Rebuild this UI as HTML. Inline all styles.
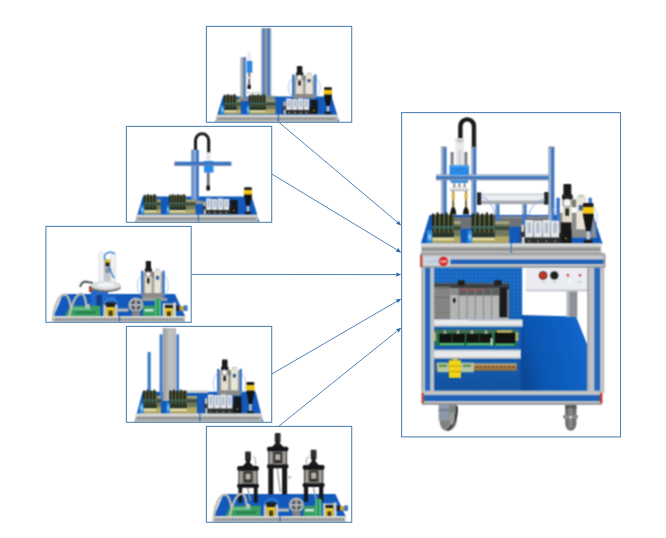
<!DOCTYPE html>
<html><head><meta charset="utf-8"><title>Workstations diagram</title>
<style>html,body{margin:0;padding:0;background:#fff;font-family:"Liberation Sans",sans-serif;}svg{display:block}</style></head>
<body>
<svg width="666" height="538" viewBox="0 0 666 538">
<defs>
<filter id="soft" x="-3%" y="-3%" width="106%" height="106%" color-interpolation-filters="sRGB"><feConvolveMatrix order="3" kernelMatrix="1 2 1 2 4 2 1 2 1" divisor="16" edgeMode="none" preserveAlpha="false"/></filter>
<filter id="soft2" x="-2%" y="-2%" width="104%" height="104%" color-interpolation-filters="sRGB"><feConvolveMatrix order="3" kernelMatrix="1 2 1 2 4 2 1 2 1" divisor="16" edgeMode="none" preserveAlpha="false"/></filter>
<linearGradient id="alu" x1="0" x2="1" y1="0" y2="0"><stop offset="0" stop-color="#9c9c9c"/><stop offset="0.55" stop-color="#c2c2c2"/><stop offset="1" stop-color="#b6b6b6"/></linearGradient>
<linearGradient id="floor" x1="0" y1="0.6" x2="1" y2="0.3"><stop offset="0" stop-color="#0a4796"/><stop offset="0.22" stop-color="#0b55b0"/><stop offset="0.7" stop-color="#0d60c2"/><stop offset="1" stop-color="#1568ca"/></linearGradient>
<linearGradient id="perfsh" x1="0" y1="0" x2="0" y2="1"><stop offset="0" stop-color="#002050" stop-opacity="0"/><stop offset="0.35" stop-color="#002050" stop-opacity="0.08"/><stop offset="1" stop-color="#002050" stop-opacity="0.32"/></linearGradient>
<pattern id="perf" x="434.2" y="268.2" width="3.8" height="3.9" patternUnits="userSpaceOnUse"><rect width="3.8" height="3.9" fill="#1b70cc"/><circle cx="1.9" cy="1.95" r="0.85" fill="#0d4c9c"/></pattern>
</defs>
<rect width="666" height="538" fill="#ffffff"/>
<g transform="translate(206.00,26.00) scale(1)" filter="url(#soft)"><polygon points="16.80,70.40 125.60,70.40 133.40,96.00 9.20,96.00" fill="#1259bb" /><rect x="55.20" y="2.20" width="10.10" height="68.80" fill="#a6a7a8" /><rect x="56.70" y="2.20" width="1.90" height="68.80" fill="#3a78c8" /><rect x="61.30" y="2.20" width="2.50" height="68.80" fill="#3a78c8" /><rect x="59.40" y="2.20" width="1.00" height="68.80" fill="#8a8c90" /><rect x="53.70" y="69.80" width="14.90" height="3.80" fill="#86888a" /><rect x="34.40" y="31.20" width="5.90" height="41.80" fill="#adaeaf" /><rect x="37.40" y="31.20" width="2.00" height="41.80" fill="#3a78c8" /><rect x="32.60" y="71.60" width="9.80" height="3.40" fill="#86888a" /><rect x="41.50" y="25.30" width="3.30" height="10.20" fill="#e9ecef" rx="1"/><rect x="40.80" y="34.90" width="5.50" height="11.90" fill="#2a86e2" /><rect x="42.20" y="46.80" width="2.00" height="12.20" fill="#6a6e74" /><rect x="41.60" y="50.50" width="3.20" height="2.50" fill="#c9ccd0" /><rect x="41.50" y="58.70" width="3.30" height="4.40" fill="#151515" rx="0.7"/><rect x="40.50" y="66.00" width="15.50" height="1.20" fill="#c4c7ca" /><path d="M86.98,70.88 C80.59,67.62 81.08,53.65 87.23,53.00" stroke="#8fb4e6" stroke-width="0.7" fill="none" /><path d="M109.62,70.88 C116.01,67.62 115.52,53.65 109.37,53.00" stroke="#8fb4e6" stroke-width="0.7" fill="none" /><rect x="87.97" y="49.75" width="20.66" height="22.10" fill="#a2a3a1" /><rect x="86.00" y="48.45" width="2.46" height="21.77" fill="#3f78c8" /><rect x="108.14" y="48.45" width="2.46" height="21.77" fill="#3f78c8" /><rect x="89.94" y="48.77" width="16.73" height="4.88" fill="#d6d3c8" /><rect x="96.82" y="49.75" width="2.95" height="4.55" fill="#7c7c78" /><rect x="90.18" y="53.65" width="6.64" height="14.30" fill="#e4dfcc" rx="0.8"/><rect x="92.15" y="54.95" width="2.71" height="4.55" fill="#2a2a2a" /><rect x="99.78" y="47.80" width="6.64" height="20.15" fill="#e9e5d6" rx="0.8"/><rect x="101.50" y="53.00" width="3.20" height="3.25" fill="#3b5f9a" /><rect x="100.76" y="46.50" width="4.67" height="1.95" fill="#cfcfc8" /><rect x="90.92" y="40.00" width="5.41" height="8.45" fill="#1a1a1a" rx="0.8"/><rect x="89.94" y="46.50" width="7.38" height="2.92" fill="#222" /><circle cx="93.50" cy="51.54" r="2.83" fill="#f4f4f4" stroke="#3a3a3a" stroke-width="0.6"/><rect x="87.48" y="67.95" width="21.65" height="4.55" fill="#8b8b8b" /><rect x="30.40" y="73.62" width="4.40" height="14.18" fill="#6f795c" /><rect x="30.40" y="73.62" width="4.40" height="1.78" fill="#a5a582" /><rect x="30.70" y="76.88" width="4.10" height="2.37" fill="#3c4a3c" /><rect x="30.70" y="83.30" width="4.10" height="4.50" fill="#b3a866" /><rect x="17.70" y="69.48" width="13.00" height="14.82" fill="#27352b" /><rect x="17.86" y="68.74" width="1.62" height="10.36" fill="#1c271f" /><rect x="19.71" y="69.78" width="0.91" height="11.25" fill="#7a7038" /><rect x="21.11" y="68.00" width="1.62" height="11.10" fill="#1c271f" /><rect x="22.96" y="69.78" width="0.91" height="11.25" fill="#7a7038" /><rect x="24.36" y="68.74" width="1.62" height="10.36" fill="#1c271f" /><rect x="26.21" y="69.78" width="0.91" height="11.25" fill="#7a7038" /><rect x="27.61" y="68.00" width="1.62" height="11.10" fill="#1c271f" /><rect x="29.46" y="69.78" width="0.91" height="11.25" fill="#7a7038" /><rect x="17.70" y="76.58" width="13.00" height="1.78" fill="#3f6a66" opacity="0.9"/><rect x="17.70" y="84.05" width="13.00" height="3.75" fill="#e1d79e" /><rect x="17.70" y="86.30" width="13.00" height="1.50" fill="#a99c58" /><rect x="14.40" y="79.54" width="3.90" height="8.26" fill="#2f8fdc" /><rect x="15.22" y="82.06" width="2.15" height="3.49" fill="#8cc6f2" /><rect x="59.60" y="73.62" width="9.90" height="14.18" fill="#6f795c" /><rect x="59.60" y="73.62" width="9.90" height="1.78" fill="#a5a582" /><rect x="59.90" y="76.88" width="9.60" height="2.37" fill="#3c4a3c" /><rect x="59.90" y="83.30" width="9.60" height="4.50" fill="#b3a866" /><rect x="43.00" y="69.48" width="16.90" height="14.82" fill="#27352b" /><rect x="43.14" y="68.74" width="1.41" height="10.36" fill="#1c271f" /><rect x="44.75" y="69.78" width="0.79" height="11.25" fill="#7a7038" /><rect x="45.96" y="68.00" width="1.41" height="11.10" fill="#1c271f" /><rect x="47.56" y="69.78" width="0.79" height="11.25" fill="#7a7038" /><rect x="48.77" y="68.74" width="1.41" height="10.36" fill="#1c271f" /><rect x="50.38" y="69.78" width="0.79" height="11.25" fill="#7a7038" /><rect x="51.59" y="68.00" width="1.41" height="11.10" fill="#1c271f" /><rect x="53.20" y="69.78" width="0.79" height="11.25" fill="#7a7038" /><rect x="54.41" y="68.74" width="1.41" height="10.36" fill="#1c271f" /><rect x="56.01" y="69.78" width="0.79" height="11.25" fill="#7a7038" /><rect x="57.22" y="68.00" width="1.41" height="11.10" fill="#1c271f" /><rect x="58.83" y="69.78" width="0.79" height="11.25" fill="#7a7038" /><rect x="43.00" y="76.58" width="16.90" height="1.78" fill="#3f6a66" opacity="0.9"/><rect x="43.00" y="84.05" width="16.90" height="3.75" fill="#e1d79e" /><rect x="43.00" y="86.30" width="16.90" height="1.50" fill="#a99c58" /><rect x="40.60" y="79.54" width="3.00" height="8.26" fill="#2f8fdc" /><rect x="41.20" y="82.06" width="1.56" height="3.49" fill="#8cc6f2" /><rect x="76.84" y="77.08" width="3.16" height="10.92" fill="#34363c" /><rect x="77.47" y="75.52" width="1.90" height="4.68" fill="#d9d4c0" /><rect x="77.79" y="83.63" width="1.90" height="4.37" fill="#cfd8e0" /><rect x="80.00" y="80.98" width="31.60" height="7.02" fill="#2b2d30" /><rect x="80.20" y="72.40" width="5.35" height="11.54" fill="#e3e6ea" /><rect x="81.75" y="74.27" width="2.34" height="6.71" fill="#b7bcc4" /><circle cx="82.92" cy="86.44" r="0.70" fill="#d9c97a" /><rect x="86.05" y="73.00" width="5.35" height="10.94" fill="#e3e6ea" /><rect x="87.60" y="74.27" width="2.34" height="6.71" fill="#b7bcc4" /><circle cx="88.77" cy="86.44" r="0.70" fill="#d9c97a" /><rect x="91.89" y="72.40" width="5.35" height="11.54" fill="#e3e6ea" /><rect x="93.45" y="74.27" width="2.34" height="6.71" fill="#b7bcc4" /><circle cx="94.61" cy="86.44" r="0.70" fill="#d9c97a" /><rect x="97.74" y="73.00" width="5.35" height="10.94" fill="#e3e6ea" /><rect x="99.29" y="74.27" width="2.34" height="6.71" fill="#b7bcc4" /><circle cx="100.46" cy="86.44" r="0.70" fill="#d9c97a" /><rect x="104.33" y="73.96" width="7.27" height="13.73" fill="#17181a" /><circle cx="107.81" cy="84.57" r="0.80" fill="#d8b73a" /><rect x="118.10" y="61.30" width="7.80" height="2.67" fill="#1c1c1c" rx="0.8"/><rect x="117.80" y="63.97" width="8.40" height="4.54" fill="#f2c511" /><polygon points="117.80,68.51 126.20,68.51 123.68,79.99 120.32,79.99" fill="#141414" /><rect x="120.82" y="79.99" width="2.35" height="6.14" fill="#c9c9c9" /><ellipse cx="122.00" cy="86.93" rx="3.53" ry="1.34" fill="#181818" /><rect x="10.20" y="88.80" width="121.80" height="7.20" fill="#c9c9c5" /><rect x="10.20" y="88.80" width="121.80" height="1.58" fill="#dcdcd8" /><line x1="11.70" y1="92.83" x2="130.50" y2="92.83" stroke="#5f6265" stroke-width="2.45" stroke-dasharray="0.86 0.83"/><rect x="10.20" y="94.99" width="121.80" height="1.01" fill="#9c9c9a" /><rect x="71.80" y="87.80" width="1.00" height="8.20" fill="#1259bb" /></g>
<g transform="translate(126.00,126.00) scale(1)" filter="url(#soft)"><polygon points="16.80,70.40 125.60,70.40 133.40,96.00 9.20,96.00" fill="#1259bb" /><path d="M69.5,25 L69.5,14.4 A6.6,6.6 0 0 1 82.7,14.4 L82.7,26.5" stroke="#1b1b1b" stroke-width="3.1" fill="none" /><rect x="65.50" y="23.80" width="7.40" height="52.20" fill="#3a78c8" /><rect x="65.50" y="23.80" width="2.90" height="52.20" fill="#6f93cc" /><rect x="68.40" y="23.80" width="1.60" height="52.20" fill="#a9bad2" /><rect x="62.50" y="74.50" width="14.50" height="3.70" fill="#8f9092" /><rect x="80.20" y="26.50" width="4.40" height="10.00" fill="#e4e7ea" /><rect x="48.70" y="35.70" width="56.50" height="4.20" fill="#3a74c4" /><rect x="48.70" y="35.70" width="1.60" height="4.20" fill="#c44" /><rect x="78.00" y="35.00" width="9.30" height="11.40" fill="#2585e4" /><rect x="48.80" y="36.60" width="56.40" height="3.30" fill="#3a74c4" /><rect x="48.80" y="38.80" width="56.40" height="1.10" fill="#7f90ac" /><rect x="78.00" y="39.90" width="9.30" height="6.50" fill="#2a8af0" /><rect x="80.80" y="46.40" width="2.80" height="14.10" fill="#6a6f76" /><rect x="80.40" y="59.50" width="3.60" height="5.10" fill="#151515" rx="0.7"/><rect x="30.40" y="73.62" width="4.40" height="14.18" fill="#6f795c" /><rect x="30.40" y="73.62" width="4.40" height="1.78" fill="#a5a582" /><rect x="30.70" y="76.88" width="4.10" height="2.37" fill="#3c4a3c" /><rect x="30.70" y="83.30" width="4.10" height="4.50" fill="#b3a866" /><rect x="17.70" y="69.48" width="13.00" height="14.82" fill="#27352b" /><rect x="17.86" y="68.74" width="1.62" height="10.36" fill="#1c271f" /><rect x="19.71" y="69.78" width="0.91" height="11.25" fill="#7a7038" /><rect x="21.11" y="68.00" width="1.62" height="11.10" fill="#1c271f" /><rect x="22.96" y="69.78" width="0.91" height="11.25" fill="#7a7038" /><rect x="24.36" y="68.74" width="1.62" height="10.36" fill="#1c271f" /><rect x="26.21" y="69.78" width="0.91" height="11.25" fill="#7a7038" /><rect x="27.61" y="68.00" width="1.62" height="11.10" fill="#1c271f" /><rect x="29.46" y="69.78" width="0.91" height="11.25" fill="#7a7038" /><rect x="17.70" y="76.58" width="13.00" height="1.78" fill="#3f6a66" opacity="0.9"/><rect x="17.70" y="84.05" width="13.00" height="3.75" fill="#e1d79e" /><rect x="17.70" y="86.30" width="13.00" height="1.50" fill="#a99c58" /><rect x="14.40" y="79.54" width="3.90" height="8.26" fill="#2f8fdc" /><rect x="15.22" y="82.06" width="2.15" height="3.49" fill="#8cc6f2" /><rect x="59.60" y="73.62" width="9.90" height="14.18" fill="#6f795c" /><rect x="59.60" y="73.62" width="9.90" height="1.78" fill="#a5a582" /><rect x="59.90" y="76.88" width="9.60" height="2.37" fill="#3c4a3c" /><rect x="59.90" y="83.30" width="9.60" height="4.50" fill="#b3a866" /><rect x="43.00" y="69.48" width="16.90" height="14.82" fill="#27352b" /><rect x="43.14" y="68.74" width="1.41" height="10.36" fill="#1c271f" /><rect x="44.75" y="69.78" width="0.79" height="11.25" fill="#7a7038" /><rect x="45.96" y="68.00" width="1.41" height="11.10" fill="#1c271f" /><rect x="47.56" y="69.78" width="0.79" height="11.25" fill="#7a7038" /><rect x="48.77" y="68.74" width="1.41" height="10.36" fill="#1c271f" /><rect x="50.38" y="69.78" width="0.79" height="11.25" fill="#7a7038" /><rect x="51.59" y="68.00" width="1.41" height="11.10" fill="#1c271f" /><rect x="53.20" y="69.78" width="0.79" height="11.25" fill="#7a7038" /><rect x="54.41" y="68.74" width="1.41" height="10.36" fill="#1c271f" /><rect x="56.01" y="69.78" width="0.79" height="11.25" fill="#7a7038" /><rect x="57.22" y="68.00" width="1.41" height="11.10" fill="#1c271f" /><rect x="58.83" y="69.78" width="0.79" height="11.25" fill="#7a7038" /><rect x="43.00" y="76.58" width="16.90" height="1.78" fill="#3f6a66" opacity="0.9"/><rect x="43.00" y="84.05" width="16.90" height="3.75" fill="#e1d79e" /><rect x="43.00" y="86.30" width="16.90" height="1.50" fill="#a99c58" /><rect x="40.60" y="79.54" width="3.00" height="8.26" fill="#2f8fdc" /><rect x="41.20" y="82.06" width="1.56" height="3.49" fill="#8cc6f2" /><rect x="76.84" y="77.08" width="3.16" height="10.92" fill="#34363c" /><rect x="77.47" y="75.52" width="1.90" height="4.68" fill="#d9d4c0" /><rect x="77.79" y="83.63" width="1.90" height="4.37" fill="#cfd8e0" /><rect x="80.00" y="80.98" width="31.60" height="7.02" fill="#2b2d30" /><rect x="80.20" y="72.40" width="5.35" height="11.54" fill="#e3e6ea" /><rect x="81.75" y="74.27" width="2.34" height="6.71" fill="#b7bcc4" /><circle cx="82.92" cy="86.44" r="0.70" fill="#d9c97a" /><rect x="86.05" y="73.00" width="5.35" height="10.94" fill="#e3e6ea" /><rect x="87.60" y="74.27" width="2.34" height="6.71" fill="#b7bcc4" /><circle cx="88.77" cy="86.44" r="0.70" fill="#d9c97a" /><rect x="91.89" y="72.40" width="5.35" height="11.54" fill="#e3e6ea" /><rect x="93.45" y="74.27" width="2.34" height="6.71" fill="#b7bcc4" /><circle cx="94.61" cy="86.44" r="0.70" fill="#d9c97a" /><rect x="97.74" y="73.00" width="5.35" height="10.94" fill="#e3e6ea" /><rect x="99.29" y="74.27" width="2.34" height="6.71" fill="#b7bcc4" /><circle cx="100.46" cy="86.44" r="0.70" fill="#d9c97a" /><rect x="104.33" y="73.96" width="7.27" height="13.73" fill="#17181a" /><circle cx="107.81" cy="84.57" r="0.80" fill="#d8b73a" /><rect x="118.10" y="61.30" width="7.80" height="2.67" fill="#1c1c1c" rx="0.8"/><rect x="117.80" y="63.97" width="8.40" height="4.54" fill="#f2c511" /><polygon points="117.80,68.51 126.20,68.51 123.68,79.99 120.32,79.99" fill="#141414" /><rect x="120.82" y="79.99" width="2.35" height="6.14" fill="#c9c9c9" /><ellipse cx="122.00" cy="86.93" rx="3.53" ry="1.34" fill="#181818" /><rect x="10.20" y="88.80" width="121.80" height="7.20" fill="#c9c9c5" /><rect x="10.20" y="88.80" width="121.80" height="1.58" fill="#dcdcd8" /><line x1="11.70" y1="92.83" x2="130.50" y2="92.83" stroke="#5f6265" stroke-width="2.45" stroke-dasharray="0.86 0.83"/><rect x="10.20" y="94.99" width="121.80" height="1.01" fill="#9c9c9a" /><rect x="71.80" y="87.80" width="1.00" height="8.20" fill="#1259bb" /></g>
<g transform="translate(45.50,226.00) scale(1)" filter="url(#soft)"><polygon points="17.50,68.00 129.40,68.00 140.00,91.00 7.80,91.00" fill="#1259bb" /><path d="M96.45,70.53 C90.26,66.78 90.74,50.65 96.69,49.90" stroke="#8fb4e6" stroke-width="0.7" fill="none" /><path d="M118.35,70.53 C124.54,66.78 124.06,50.65 118.11,49.90" stroke="#8fb4e6" stroke-width="0.7" fill="none" /><rect x="97.40" y="46.15" width="19.99" height="25.50" fill="#a2a3a1" /><rect x="95.50" y="44.65" width="2.38" height="25.13" fill="#3f78c8" /><rect x="116.92" y="44.65" width="2.38" height="25.13" fill="#3f78c8" /><rect x="99.31" y="45.02" width="16.18" height="5.62" fill="#d6d3c8" /><rect x="105.97" y="46.15" width="2.86" height="5.25" fill="#7c7c78" /><rect x="99.55" y="50.65" width="6.43" height="16.50" fill="#e4dfcc" rx="0.8"/><rect x="101.45" y="52.15" width="2.62" height="5.25" fill="#2a2a2a" /><rect x="108.83" y="43.90" width="6.43" height="23.25" fill="#e9e5d6" rx="0.8"/><rect x="110.49" y="49.90" width="3.09" height="3.75" fill="#3b5f9a" /><rect x="109.78" y="42.40" width="4.52" height="2.25" fill="#cfcfc8" /><rect x="100.26" y="34.90" width="5.24" height="9.75" fill="#1a1a1a" rx="0.8"/><rect x="99.31" y="42.40" width="7.14" height="3.38" fill="#222" /><circle cx="102.76" cy="48.21" r="2.74" fill="#f4f4f4" stroke="#3a3a3a" stroke-width="0.6"/><rect x="96.93" y="67.15" width="20.94" height="5.25" fill="#8b8b8b" /><rect x="96.00" y="71.80" width="25.80" height="3.20" fill="#9a9c9e" /><rect x="45.30" y="64.00" width="17.30" height="16.40" fill="#2268c6" /><rect x="51.00" y="69.00" width="5.50" height="11.40" fill="#123f86" /><rect x="62.00" y="70.00" width="8.00" height="8.00" fill="#2268c6" /><rect x="53.30" y="26.30" width="5.10" height="30.70" fill="#eef0f3" rx="1.5" stroke="#cfd4da" stroke-width="0.5"/><rect x="65.10" y="26.30" width="5.20" height="30.70" fill="#eef0f3" rx="1.5" stroke="#cfd4da" stroke-width="0.5"/><rect x="58.40" y="33.00" width="6.70" height="23.00" fill="#c2c7cd" /><rect x="59.50" y="33.50" width="5.00" height="4.50" fill="#e0be2c" /><rect x="60.00" y="36.50" width="4.00" height="4.00" fill="#222" /><rect x="60.00" y="42.00" width="4.50" height="5.00" fill="#8a8e94" /><path d="M60,34 C56,27 66,24 69,28" stroke="#2a7fd6" stroke-width="1.3" fill="none" /><path d="M63,40 C66,44 66,50 69,52" stroke="#2a7fd6" stroke-width="1.3" fill="none" /><path d="M47.5,57 L40,55.6 C37,55.5 35.5,58 34.6,61" stroke="#5a5f64" stroke-width="2.2" fill="none" /><rect x="43.50" y="60.00" width="3.00" height="6.00" fill="#b23a30" /><ellipse cx="60.40" cy="61.60" rx="15.00" ry="4.60" fill="#6f7377" /><ellipse cx="60.40" cy="59.60" rx="15.20" ry="4.60" fill="#d9dbde" /><ellipse cx="60.40" cy="59.00" rx="9.00" ry="2.40" fill="#f1f2f4" /><polygon points="24.50,79.80 54.80,79.80 54.80,91.00 19.00,91.00" fill="#3a9e62" /><rect x="27.00" y="81.50" width="18.00" height="2.50" fill="#6cc08a" /><rect x="30.00" y="85.50" width="20.00" height="2.10" fill="#25804c" /><rect x="40.00" y="78.00" width="4.00" height="4.00" fill="#c9c9c0" /><rect x="59.50" y="76.50" width="11.00" height="5.00" fill="#1d1d1d" /><rect x="60.60" y="81.00" width="8.60" height="10.00" fill="#e8c62a" /><rect x="63.00" y="84.50" width="4.20" height="6.50" fill="#4a3e10" /><rect x="57.80" y="78.50" width="2.80" height="12.50" fill="#c9c9c9" /><rect x="69.40" y="78.50" width="2.80" height="12.50" fill="#c9c9c9" /><path d="M58,80 C60,72 68,70 72,77" stroke="#3a8fd4" stroke-width="1.2" fill="none" /><rect x="72.00" y="82.50" width="11.00" height="3.10" fill="#b9b9b6" /><circle cx="90.40" cy="79.00" r="6.40" fill="#4e565e" stroke="#b4b6b8" stroke-width="2.4"/><rect x="89.40" y="73.00" width="2.00" height="12.00" fill="#b4b6b8" /><rect x="84.40" y="78.00" width="12.00" height="2.00" fill="#b4b6b8" /><rect x="86.50" y="85.00" width="8.00" height="6.00" fill="#7d8186" /><rect x="97.40" y="79.80" width="18.10" height="10.80" fill="#3a9e62" /><rect x="99.00" y="83.00" width="9.00" height="2.50" fill="#cfe6d6" /><rect x="109.20" y="72.80" width="6.30" height="17.80" fill="#4cb67e" /><rect x="111.40" y="72.80" width="1.60" height="17.80" fill="#2d8a58" /><rect x="118.00" y="77.50" width="11.00" height="4.10" fill="#c9c9c9" /><rect x="119.20" y="79.00" width="8.20" height="3.40" fill="#1d1d1d" /><rect x="119.20" y="82.00" width="8.20" height="8.60" fill="#e8c62a" /><rect x="121.40" y="85.40" width="4.00" height="5.20" fill="#4a3e10" /><rect x="117.20" y="77.50" width="2.20" height="13.10" fill="#d4d4d4" /><rect x="127.60" y="76.50" width="3.00" height="14.10" fill="#d4d4d4" /><rect x="130.60" y="79.60" width="3.90" height="5.20" fill="#222" /><rect x="134.00" y="80.20" width="5.00" height="4.40" fill="#c8a24a" /><rect x="138.20" y="79.40" width="3.80" height="5.60" fill="#3a78b8" /><path d="M7.4,95.5 C8.5,78 14,68.6 19.0,68.6 C23,68.6 24.6,76 25.6,82.6" stroke="#bdbbb0" stroke-width="2.3" fill="none" /><path d="M23.3,95.5 C25,78 31,67.6 35.8,67.6 C39,67.6 40.4,75 41.3,82" stroke="#bdbbb0" stroke-width="2.3" fill="none" /><rect x="7.60" y="90.00" width="132.00" height="6.00" fill="#c9c9c5" /><rect x="7.60" y="90.00" width="132.00" height="1.32" fill="#dcdcd8" /><line x1="9.10" y1="93.36" x2="138.10" y2="93.36" stroke="#5f6265" stroke-width="2.04" stroke-dasharray="0.72 0.69"/><rect x="7.60" y="95.16" width="132.00" height="0.84" fill="#9c9c9a" /><rect x="73.50" y="89.00" width="1.00" height="7.00" fill="#1259bb" /></g>
<g transform="translate(126.00,326.00) scale(1)" filter="url(#soft)"><polygon points="16.50,65.80 129.60,65.80 137.20,96.00 8.60,96.00" fill="#1259bb" /><rect x="21.60" y="26.00" width="3.10" height="41.00" fill="#3a78c8" /><rect x="33.60" y="8.40" width="3.00" height="66.60" fill="#3a78c8" /><rect x="50.40" y="8.40" width="2.60" height="57.10" fill="#3a78c8" /><rect x="36.8" y="2" width="13.2" height="73" fill="url(#alu)"/><rect x="53.00" y="64.40" width="29.00" height="2.60" fill="#c9cbcd" /><path d="M92.00,67.70 C85.50,64.11 86.00,48.68 92.25,47.96" stroke="#8fb4e6" stroke-width="0.7" fill="none" /><path d="M115.00,67.70 C121.50,64.11 121.00,48.68 114.75,47.96" stroke="#8fb4e6" stroke-width="0.7" fill="none" /><rect x="93.00" y="44.37" width="21.00" height="24.41" fill="#a2a3a1" /><rect x="91.00" y="42.93" width="2.50" height="24.05" fill="#3f78c8" /><rect x="113.50" y="42.93" width="2.50" height="24.05" fill="#3f78c8" /><rect x="95.00" y="43.29" width="17.00" height="5.38" fill="#d6d3c8" /><rect x="102.00" y="44.37" width="3.00" height="5.03" fill="#7c7c78" /><rect x="95.25" y="48.68" width="6.75" height="15.80" fill="#e4dfcc" rx="0.8"/><rect x="97.25" y="50.11" width="2.75" height="5.03" fill="#2a2a2a" /><rect x="105.00" y="42.22" width="6.75" height="22.26" fill="#e9e5d6" rx="0.8"/><rect x="106.75" y="47.96" width="3.25" height="3.59" fill="#3b5f9a" /><rect x="106.00" y="40.78" width="4.75" height="2.15" fill="#cfcfc8" /><rect x="96.00" y="33.60" width="5.50" height="9.33" fill="#1a1a1a" rx="0.8"/><rect x="95.00" y="40.78" width="7.50" height="3.23" fill="#222" /><circle cx="98.62" cy="46.34" r="2.88" fill="#f4f4f4" stroke="#3a3a3a" stroke-width="0.6"/><rect x="92.50" y="64.47" width="22.00" height="5.03" fill="#8b8b8b" /><rect x="30.30" y="69.96" width="4.70" height="17.54" fill="#6f795c" /><rect x="30.30" y="69.96" width="4.70" height="2.04" fill="#a5a582" /><rect x="30.60" y="73.70" width="4.40" height="2.72" fill="#3c4a3c" /><rect x="30.60" y="81.20" width="4.40" height="6.30" fill="#b3a866" /><rect x="17.00" y="65.20" width="13.60" height="17.40" fill="#27352b" /><rect x="17.17" y="64.35" width="1.70" height="11.90" fill="#1c271f" /><rect x="19.11" y="65.54" width="0.95" height="12.92" fill="#7a7038" /><rect x="20.57" y="63.50" width="1.70" height="12.75" fill="#1c271f" /><rect x="22.51" y="65.54" width="0.95" height="12.92" fill="#7a7038" /><rect x="23.97" y="64.35" width="1.70" height="11.90" fill="#1c271f" /><rect x="25.91" y="65.54" width="0.95" height="12.92" fill="#7a7038" /><rect x="27.37" y="63.50" width="1.70" height="12.75" fill="#1c271f" /><rect x="29.31" y="65.54" width="0.95" height="12.92" fill="#7a7038" /><rect x="17.00" y="73.36" width="13.60" height="2.04" fill="#3f6a66" opacity="0.9"/><rect x="17.00" y="82.25" width="13.60" height="5.25" fill="#e1d79e" /><rect x="17.00" y="85.40" width="13.60" height="2.10" fill="#a99c58" /><rect x="13.60" y="76.76" width="4.00" height="10.74" fill="#2f8fdc" /><rect x="14.45" y="79.65" width="2.21" height="4.70" fill="#8cc6f2" /><rect x="60.70" y="69.96" width="10.30" height="17.54" fill="#6f795c" /><rect x="60.70" y="69.96" width="10.30" height="2.04" fill="#a5a582" /><rect x="61.00" y="73.70" width="10.00" height="2.72" fill="#3c4a3c" /><rect x="61.00" y="81.20" width="10.00" height="6.30" fill="#b3a866" /><rect x="43.40" y="65.20" width="17.60" height="17.40" fill="#27352b" /><rect x="43.58" y="64.35" width="1.76" height="11.90" fill="#1c271f" /><rect x="45.58" y="65.54" width="0.99" height="12.92" fill="#7a7038" /><rect x="47.10" y="63.50" width="1.76" height="12.75" fill="#1c271f" /><rect x="49.10" y="65.54" width="0.99" height="12.92" fill="#7a7038" /><rect x="50.62" y="64.35" width="1.76" height="11.90" fill="#1c271f" /><rect x="52.62" y="65.54" width="0.99" height="12.92" fill="#7a7038" /><rect x="54.14" y="63.50" width="1.76" height="12.75" fill="#1c271f" /><rect x="56.14" y="65.54" width="0.99" height="12.92" fill="#7a7038" /><rect x="57.66" y="64.35" width="1.76" height="11.90" fill="#1c271f" /><rect x="59.66" y="65.54" width="0.99" height="12.92" fill="#7a7038" /><rect x="43.40" y="73.36" width="17.60" height="2.04" fill="#3f6a66" opacity="0.9"/><rect x="43.40" y="82.25" width="17.60" height="5.25" fill="#e1d79e" /><rect x="43.40" y="85.40" width="17.60" height="2.10" fill="#a99c58" /><rect x="40.60" y="76.76" width="3.40" height="10.74" fill="#2f8fdc" /><rect x="41.30" y="79.65" width="1.82" height="4.70" fill="#8cc6f2" /><rect x="78.33" y="74.20" width="3.37" height="13.30" fill="#34363c" /><rect x="79.00" y="72.30" width="2.02" height="5.70" fill="#d9d4c0" /><rect x="79.34" y="82.18" width="2.02" height="5.32" fill="#cfd8e0" /><rect x="81.70" y="78.95" width="33.70" height="8.55" fill="#2b2d30" /><rect x="81.90" y="68.50" width="5.73" height="14.06" fill="#e3e6ea" /><rect x="83.57" y="70.78" width="2.49" height="8.17" fill="#b7bcc4" /><circle cx="84.82" cy="85.60" r="0.70" fill="#d9c97a" /><rect x="88.13" y="69.10" width="5.73" height="13.46" fill="#e3e6ea" /><rect x="89.80" y="70.78" width="2.49" height="8.17" fill="#b7bcc4" /><circle cx="91.05" cy="85.60" r="0.70" fill="#d9c97a" /><rect x="94.37" y="68.50" width="5.73" height="14.06" fill="#e3e6ea" /><rect x="96.04" y="70.78" width="2.49" height="8.17" fill="#b7bcc4" /><circle cx="97.29" cy="85.60" r="0.70" fill="#d9c97a" /><rect x="100.60" y="69.10" width="5.73" height="13.46" fill="#e3e6ea" /><rect x="102.27" y="70.78" width="2.49" height="8.17" fill="#b7bcc4" /><circle cx="103.52" cy="85.60" r="0.70" fill="#d9c97a" /><rect x="107.65" y="70.40" width="7.75" height="16.72" fill="#17181a" /><circle cx="111.36" cy="83.32" r="0.80" fill="#d8b73a" /><rect x="120.50" y="56.00" width="7.80" height="3.15" fill="#1c1c1c" rx="0.8"/><rect x="120.20" y="59.15" width="8.40" height="5.35" fill="#f2c511" /><polygon points="120.20,64.50 128.60,64.50 126.08,78.05 122.72,78.05" fill="#141414" /><rect x="123.22" y="78.05" width="2.35" height="7.25" fill="#c9c9c9" /><ellipse cx="124.40" cy="86.24" rx="3.53" ry="1.58" fill="#181818" /><rect x="9.60" y="87.60" width="126.20" height="8.40" fill="#c9c9c5" /><rect x="9.60" y="87.60" width="126.20" height="1.85" fill="#dcdcd8" /><line x1="11.10" y1="92.30" x2="134.30" y2="92.30" stroke="#5f6265" stroke-width="2.86" stroke-dasharray="1.01 0.97"/><rect x="9.60" y="94.82" width="126.20" height="1.18" fill="#9c9c9a" /><rect x="73.40" y="86.60" width="1.00" height="9.40" fill="#1259bb" /></g>
<g transform="translate(206.00,426.00) scale(1)" filter="url(#soft)"><polygon points="17.50,68.00 129.40,68.00 140.00,91.00 7.80,91.00" fill="#1259bb" /><path d="M41.50,61.00 L44.50,74.60" stroke="#9c9c9a" stroke-width="1.4" fill="none" /><rect x="32.40" y="43.10" width="3.80" height="33.50" fill="#17181a" /><rect x="47.80" y="43.10" width="3.80" height="33.50" fill="#17181a" /><rect x="33.00" y="43.10" width="18.00" height="14.90" fill="#7c7a76" /><rect x="34.20" y="44.10" width="2.00" height="13.90" fill="#a6a7a4" /><rect x="47.80" y="44.10" width="2.00" height="13.90" fill="#a6a7a4" /><rect x="37.80" y="45.60" width="8.40" height="10.90" fill="#35322e" /><rect x="39.60" y="47.60" width="5.00" height="5.90" fill="#b5b2a6" /><rect x="31.20" y="40.10" width="21.60" height="4.60" fill="#15161a" rx="1.6"/><rect x="31.20" y="58.00" width="21.60" height="3.70" fill="#15161a" rx="0.8"/><rect x="39.10" y="25.40" width="5.80" height="9.60" fill="#2b2c2e" rx="1"/><rect x="40.00" y="33.40" width="4.00" height="7.70" fill="#1d1d1f" /><polygon points="39.80,36.70 44.20,36.70 48.00,40.70 36.00,40.70" fill="#1a1b1d" /><path d="M107.10,60.20 L110.10,73.80" stroke="#9c9c9a" stroke-width="1.4" fill="none" /><rect x="97.90" y="42.10" width="4.20" height="33.70" fill="#17181a" /><rect x="113.10" y="42.10" width="4.20" height="33.70" fill="#17181a" /><rect x="98.50" y="42.10" width="18.20" height="15.10" fill="#7c7a76" /><rect x="99.70" y="43.10" width="2.00" height="14.10" fill="#a6a7a4" /><rect x="113.50" y="43.10" width="2.00" height="14.10" fill="#a6a7a4" /><rect x="103.40" y="44.60" width="8.40" height="11.10" fill="#35322e" /><rect x="105.20" y="46.60" width="5.00" height="6.10" fill="#b5b2a6" /><rect x="96.70" y="39.10" width="21.80" height="4.60" fill="#15161a" rx="1.6"/><rect x="96.70" y="57.20" width="21.80" height="3.70" fill="#15161a" rx="0.8"/><rect x="104.70" y="23.70" width="5.80" height="9.60" fill="#2b2c2e" rx="1"/><rect x="105.60" y="31.70" width="4.00" height="8.40" fill="#1d1d1f" /><polygon points="105.40,35.70 109.80,35.70 113.60,39.70 101.60,39.70" fill="#1a1b1d" /><path d="M71.20,41.50 L74.20,66.40" stroke="#9c9c9a" stroke-width="1.4" fill="none" /><rect x="62.30" y="23.70" width="5.00" height="44.70" fill="#17181a" /><rect x="76.10" y="23.70" width="5.00" height="44.70" fill="#17181a" /><rect x="62.90" y="23.70" width="17.60" height="14.80" fill="#7c7a76" /><rect x="64.10" y="24.70" width="2.00" height="13.80" fill="#a6a7a4" /><rect x="77.30" y="24.70" width="2.00" height="13.80" fill="#a6a7a4" /><rect x="67.50" y="26.20" width="8.40" height="10.80" fill="#35322e" /><rect x="69.30" y="28.20" width="5.00" height="5.80" fill="#b5b2a6" /><rect x="61.10" y="20.70" width="21.20" height="4.60" fill="#15161a" rx="1.6"/><rect x="61.10" y="38.50" width="21.20" height="3.70" fill="#15161a" rx="0.8"/><rect x="68.80" y="7.00" width="5.80" height="9.60" fill="#2b2c2e" rx="1"/><rect x="69.70" y="15.00" width="4.00" height="6.70" fill="#1d1d1f" /><polygon points="69.50,17.30 73.90,17.30 77.70,21.30 65.70,21.30" fill="#1a1b1d" /><path d="M47,31 C50,30 50,36 49,40" stroke="#8f9194" stroke-width="0.9" fill="none" /><path d="M103,31 C100,30 100,36 101,40" stroke="#8f9194" stroke-width="0.9" fill="none" /><rect x="82.20" y="50.00" width="2.80" height="2.40" fill="#b9bbbd" /><polygon points="24.50,79.80 54.80,79.80 54.80,91.00 19.00,91.00" fill="#3a9e62" /><rect x="27.00" y="81.50" width="18.00" height="2.50" fill="#6cc08a" /><rect x="30.00" y="85.50" width="20.00" height="2.10" fill="#25804c" /><rect x="40.00" y="78.00" width="4.00" height="4.00" fill="#c9c9c0" /><rect x="59.50" y="76.50" width="11.00" height="5.00" fill="#1d1d1d" /><rect x="60.60" y="81.00" width="8.60" height="10.00" fill="#e8c62a" /><rect x="63.00" y="84.50" width="4.20" height="6.50" fill="#4a3e10" /><rect x="57.80" y="78.50" width="2.80" height="12.50" fill="#c9c9c9" /><rect x="69.40" y="78.50" width="2.80" height="12.50" fill="#c9c9c9" /><path d="M58,80 C60,72 68,70 72,77" stroke="#3a8fd4" stroke-width="1.2" fill="none" /><rect x="72.00" y="82.50" width="11.00" height="3.10" fill="#b9b9b6" /><circle cx="90.40" cy="79.00" r="6.40" fill="#4e565e" stroke="#b4b6b8" stroke-width="2.4"/><rect x="89.40" y="73.00" width="2.00" height="12.00" fill="#b4b6b8" /><rect x="84.40" y="78.00" width="12.00" height="2.00" fill="#b4b6b8" /><rect x="86.50" y="85.00" width="8.00" height="6.00" fill="#7d8186" /><rect x="97.40" y="79.80" width="18.10" height="10.80" fill="#3a9e62" /><rect x="99.00" y="83.00" width="9.00" height="2.50" fill="#cfe6d6" /><rect x="109.20" y="72.80" width="6.30" height="17.80" fill="#4cb67e" /><rect x="111.40" y="72.80" width="1.60" height="17.80" fill="#2d8a58" /><rect x="118.00" y="77.50" width="11.00" height="4.10" fill="#c9c9c9" /><rect x="119.20" y="79.00" width="8.20" height="3.40" fill="#1d1d1d" /><rect x="119.20" y="82.00" width="8.20" height="8.60" fill="#e8c62a" /><rect x="121.40" y="85.40" width="4.00" height="5.20" fill="#4a3e10" /><rect x="117.20" y="77.50" width="2.20" height="13.10" fill="#d4d4d4" /><rect x="127.60" y="76.50" width="3.00" height="14.10" fill="#d4d4d4" /><rect x="130.60" y="79.60" width="3.90" height="5.20" fill="#222" /><rect x="134.00" y="80.20" width="5.00" height="4.40" fill="#c8a24a" /><rect x="138.20" y="79.40" width="3.80" height="5.60" fill="#3a78b8" /><path d="M7.4,95.5 C8.5,78 14,68.6 19.0,68.6 C23,68.6 24.6,76 25.6,82.6" stroke="#bdbbb0" stroke-width="2.3" fill="none" /><path d="M23.3,95.5 C25,78 31,67.6 35.8,67.6 C39,67.6 40.4,75 41.3,82" stroke="#bdbbb0" stroke-width="2.3" fill="none" /><rect x="7.60" y="90.00" width="132.00" height="6.00" fill="#c9c9c5" /><rect x="7.60" y="90.00" width="132.00" height="1.32" fill="#dcdcd8" /><line x1="9.10" y1="93.36" x2="138.10" y2="93.36" stroke="#5f6265" stroke-width="2.04" stroke-dasharray="0.72 0.69"/><rect x="7.60" y="95.16" width="132.00" height="0.84" fill="#9c9c9a" /><rect x="73.50" y="89.00" width="1.00" height="7.00" fill="#1259bb" /></g>
<g filter="url(#soft2)"><path d="M439.2,404 L457.0,404 L457.0,418 C457,426 452.5,431 447.5,431 C443,431 439.6,427 439.6,420 Z" fill="#7f827f"/><path d="M456.8,406 C458,416 454,426 447.5,430.2" stroke="#2e2f30" stroke-width="1.8" fill="none"/><rect x="438.60" y="404.00" width="10.80" height="16.50" fill="#8d99a8" rx="1.2"/><rect x="438.60" y="409.50" width="10.80" height="1.50" fill="#6e7884" /><ellipse cx="452.00" cy="418.50" rx="2.60" ry="6.50" fill="#9a9c98" /><path d="M565.2,405 L576.4,405 L576.4,422 C576.4,428 574,430.6 570.8,430.6 C567.6,430.6 565.2,428 565.2,422 Z" fill="#6c6e6b"/><rect x="565.20" y="405.00" width="11.20" height="4.00" fill="#585a58" /><rect x="563.00" y="415.00" width="15.00" height="3.40" fill="#8a8c88" rx="1"/><rect x="568.60" y="408.00" width="4.00" height="20.00" fill="#85878a" /><circle cx="570.60" cy="417.20" r="1.30" fill="#e9e9e9" /><rect x="434.00" y="268.00" width="153.00" height="124.00" fill="#ffffff" /><rect x="434.0" y="266.5" width="88.2" height="125" fill="url(#perf)"/><rect x="434.0" y="266.5" width="88.2" height="125" fill="url(#perfsh)"/><polygon points="521.00,315.00 576.00,316.50 587.20,344.50 587.20,391.00 520.60,391.00" fill="url(#floor)" /><rect x="566.80" y="290.00" width="10.50" height="27.00" fill="#8d9094" /><rect x="566.80" y="290.00" width="2.80" height="27.00" fill="#b3b6b9" /><rect x="525.80" y="267.50" width="62.80" height="23.70" fill="#eaecf1" /><rect x="525.80" y="289.60" width="62.80" height="1.80" fill="#c3c7cd" /><circle cx="543.10" cy="275.40" r="3.90" fill="#c8341f" stroke="#4a3a36" stroke-width="0.9"/><circle cx="554.30" cy="275.40" r="3.90" fill="#1c1c1c" stroke="#555" stroke-width="0.8"/><circle cx="570.40" cy="281.20" r="3.30" fill="#f4f5f7" stroke="#d5d8dd" stroke-width="0.5"/><circle cx="567.90" cy="275.30" r="1.30" fill="#d8403a" /><circle cx="579.90" cy="275.30" r="1.30" fill="#d8403a" /><rect x="541.50" y="281.50" width="3.50" height="1.10" fill="#b9c0cc" /><rect x="553.00" y="281.50" width="3.00" height="1.10" fill="#b9c0cc" /><rect x="577.50" y="281.50" width="4.00" height="1.10" fill="#b9c0dc" /><rect x="430.60" y="283.40" width="78.40" height="36.00" fill="#b5b6b6" /><rect x="430.60" y="283.40" width="78.40" height="5.00" fill="#3e3f40" /><rect x="430.60" y="286.60" width="19.80" height="32.80" fill="#848482" /><rect x="430.60" y="286.60" width="19.80" height="2.00" fill="#6c6c6a" /><rect x="432.50" y="297.20" width="16.50" height="0.80" fill="#6a6a68" /><rect x="432.50" y="312.00" width="16.50" height="0.80" fill="#727270" /><rect x="450.40" y="288.20" width="8.00" height="31.20" fill="#b3b4b3" /><rect x="450.40" y="288.20" width="8.00" height="6.80" fill="#8a8b8a" /><ellipse cx="454.30" cy="300.50" rx="1.40" ry="2.40" fill="#1c1c1c" /><rect x="458.40" y="288.40" width="41.00" height="7.00" fill="#5c5d5e" /><rect x="458.40" y="288.40" width="0.90" height="31.00" fill="#7e8082" /><rect x="459.80" y="289.40" width="6.20" height="1.40" fill="#b0524a" /><rect x="466.60" y="288.40" width="0.90" height="31.00" fill="#7e8082" /><rect x="468.00" y="289.40" width="6.20" height="1.40" fill="#b0524a" /><rect x="474.80" y="288.40" width="0.90" height="31.00" fill="#7e8082" /><rect x="476.20" y="289.40" width="6.20" height="1.40" fill="#b0524a" /><rect x="483.00" y="288.40" width="0.90" height="31.00" fill="#7e8082" /><rect x="491.20" y="288.40" width="0.90" height="31.00" fill="#7e8082" /><rect x="499.40" y="287.60" width="9.80" height="29.80" fill="#1a1b1d" /><rect x="506.90" y="289.00" width="2.30" height="28.40" fill="#77797b" /><rect x="457.80" y="280.30" width="7.00" height="5.30" fill="#1f1f1f" rx="1"/><rect x="494.20" y="280.30" width="7.40" height="5.30" fill="#1f1f1f" rx="1"/><rect x="430.30" y="319.40" width="92.30" height="7.20" fill="#e9eaec" /><rect x="430.30" y="325.20" width="92.30" height="1.40" fill="#b9bbbf" /><line x1="470" y1="320.3" x2="522" y2="320.3" stroke="#aeb0b4" stroke-width="1.4" stroke-dasharray="1.2 1.6"/><rect x="434.80" y="330.60" width="82.00" height="15.20" fill="#27744a" /><rect x="434.80" y="329.60" width="82.00" height="3.40" fill="#3f6f50" /><rect x="439.30" y="333.60" width="25.50" height="9.00" fill="#10130f" /><rect x="466.30" y="333.60" width="25.50" height="9.00" fill="#10130f" /><rect x="494.80" y="332.60" width="20.20" height="10.80" fill="#0e110d" /><rect x="451.60" y="333.60" width="1.00" height="9.00" fill="#2d4a36" /><rect x="478.60" y="333.60" width="1.00" height="9.00" fill="#2d4a36" /><polygon points="443.00,333.40 447.00,333.40 445.00,329.40" fill="#c9b890" /><polygon points="456.00,333.40 460.00,333.40 458.00,329.40" fill="#c9b890" /><polygon points="470.00,333.40 474.00,333.40 472.00,329.40" fill="#c9b890" /><polygon points="484.00,333.40 488.00,333.40 486.00,329.40" fill="#c9b890" /><rect x="497.00" y="330.20" width="15.00" height="2.60" fill="#c2ae5a" /><rect x="490.60" y="338.00" width="1.80" height="7.40" fill="#e6e6e6" /><rect x="433.60" y="332.00" width="2.40" height="9.00" fill="#b9a86a" /><rect x="515.60" y="332.00" width="2.80" height="9.00" fill="#b9a86a" /><rect x="440.00" y="343.20" width="24.00" height="2.00" fill="#58b878" /><rect x="467.00" y="343.20" width="24.00" height="2.00" fill="#58b878" /><rect x="496.00" y="343.60" width="18.00" height="1.80" fill="#58b878" /><rect x="432.00" y="349.60" width="88.80" height="9.00" fill="#e9eaec" /><rect x="432.00" y="357.20" width="88.80" height="1.40" fill="#b9bbbf" /><line x1="434" y1="350.8" x2="520" y2="350.8" stroke="#aeb0b4" stroke-width="1.4" stroke-dasharray="1.2 1.6"/><rect x="436.20" y="363.60" width="80.60" height="7.20" fill="#a57a45" /><rect x="436.20" y="363.60" width="80.60" height="1.20" fill="#c9b79a" /><rect x="436.20" y="369.60" width="80.60" height="1.20" fill="#7a6a55" /><line x1="476" y1="367.2" x2="516" y2="367.2" stroke="#6b4a2a" stroke-width="1.6" stroke-dasharray="2.4 1.6"/><rect x="437.50" y="362.60" width="11.30" height="9.60" fill="#b7c4a8" /><rect x="439.00" y="364.50" width="8.00" height="2.50" fill="#5e9a4e" /><rect x="461.00" y="362.60" width="12.80" height="9.60" fill="#b7c4a8" /><rect x="463.00" y="364.50" width="8.00" height="2.50" fill="#5e9a4e" /><rect x="448.90" y="360.20" width="12.00" height="17.60" fill="#f0d41a" /><rect x="448.90" y="365.60" width="12.00" height="1.20" fill="#c2a60a" /><rect x="448.90" y="371.00" width="12.00" height="1.20" fill="#c2a60a" /><rect x="452.50" y="358.60" width="5.00" height="1.80" fill="#d8c23a" /><rect x="421.60" y="266.00" width="12.60" height="127.00" fill="#bfc1c3" /><rect x="421.60" y="266.00" width="1.50" height="127.00" fill="#9fa1a3" /><rect x="425.10" y="266.00" width="5.00" height="127.00" fill="#2567bd" /><rect x="587.40" y="266.00" width="17.00" height="127.00" fill="#bfc1c3" /><rect x="587.40" y="266.00" width="1.50" height="127.00" fill="#9fa1a3" /><rect x="594.40" y="266.00" width="5.60" height="127.00" fill="#2567bd" /><rect x="421.80" y="390.60" width="180.20" height="14.00" fill="#bfc1c3" /><rect x="424.00" y="395.20" width="176.00" height="5.80" fill="#1f62b8" /><rect x="421.80" y="403.00" width="180.20" height="1.60" fill="#8d8f91" /><rect x="421.60" y="393.00" width="2.20" height="10.00" fill="#c8362a" /><rect x="600.00" y="393.00" width="2.40" height="10.00" fill="#c8362a" /><path d="M460.4,139 L460.4,126.2 A6.8,6.8 0 0 1 474.0,126.2 L474.0,147" stroke="#1a1a1a" stroke-width="4.4" fill="none" /><path d="M475.4,147 L475.4,126.2" stroke="#8a7a3a" stroke-width="0.8" fill="none" stroke-dasharray="0.8 1.4"/><rect x="548.60" y="146.80" width="5.80" height="74.20" fill="#3c76c6" /><rect x="548.60" y="146.80" width="2.44" height="74.20" fill="#a9b2be" /><rect x="548.60" y="146.80" width="5.80" height="1.20" fill="#7f8894" /><rect x="441.30" y="146.80" width="5.30" height="69.20" fill="#3c76c6" /><rect x="441.30" y="146.80" width="2.23" height="69.20" fill="#a9b2be" /><rect x="441.30" y="146.80" width="5.30" height="1.20" fill="#7f8894" /><rect x="471.00" y="146.80" width="5.30" height="69.20" fill="#3c76c6" /><rect x="471.00" y="146.80" width="2.23" height="69.20" fill="#a9b2be" /><rect x="471.00" y="146.80" width="5.30" height="1.20" fill="#7f8894" /><rect x="436.00" y="174.60" width="112.80" height="5.60" fill="#3873c4" /><rect x="436.00" y="174.60" width="112.80" height="1.60" fill="#b5c0cf" /><rect x="436.00" y="178.80" width="112.80" height="1.40" fill="#8c98aa" /><rect x="455.60" y="138.20" width="8.40" height="27.80" fill="#e6e8ea" /><rect x="455.60" y="138.20" width="8.40" height="4.30" fill="#d4d7da" /><circle cx="459.80" cy="141.20" r="0.80" fill="#777" /><rect x="450.60" y="152.00" width="3.00" height="14.00" fill="#7d8084" /><rect x="464.40" y="152.00" width="3.00" height="14.00" fill="#7d8084" /><rect x="458.30" y="150.00" width="2.90" height="15.00" fill="#cfd3d7" /><rect x="449.50" y="165.20" width="19.60" height="10.00" fill="#2b8ae6" /><rect x="449.50" y="165.20" width="19.60" height="1.80" fill="#53a4f0" /><rect x="450.50" y="180.20" width="17.50" height="2.60" fill="#2b8ae6" /><circle cx="457.50" cy="170.00" r="0.70" fill="#124e9a" /><circle cx="462.00" cy="168.60" r="0.70" fill="#124e9a" /><rect x="453.00" y="182.80" width="2.50" height="5.20" fill="#9a9da1" /><rect x="458.20" y="182.80" width="2.40" height="5.20" fill="#9a9da1" /><rect x="463.40" y="182.80" width="2.40" height="5.20" fill="#9a9da1" /><rect x="450.00" y="187.40" width="18.60" height="3.60" fill="#e3e5e7" /><rect x="450.00" y="189.80" width="18.60" height="1.20" fill="#a9adb1" /><rect x="452.20" y="191.00" width="2.00" height="17.00" fill="#b08a3c" /><rect x="451.70" y="194.00" width="3.00" height="5.00" fill="#d4b050" /><rect x="452.50" y="201.00" width="1.40" height="7.00" fill="#6b5a3a" /><polygon points="451.60,207.60 454.80,207.60 456.50,214.40 449.90,214.40" fill="#161616" /><rect x="450.60" y="210.20" width="5.20" height="1.20" fill="#161616" /><rect x="465.00" y="191.00" width="2.00" height="17.00" fill="#b08a3c" /><rect x="464.50" y="194.00" width="3.00" height="5.00" fill="#d4b050" /><rect x="465.30" y="201.00" width="1.40" height="7.00" fill="#6b5a3a" /><polygon points="464.40,207.60 467.60,207.60 469.30,214.40 462.70,214.40" fill="#161616" /><rect x="463.40" y="210.20" width="5.20" height="1.20" fill="#161616" /><rect x="479.00" y="193.60" width="67.50" height="10.60" fill="#eceef0" /><rect x="479.00" y="193.60" width="67.50" height="1.60" fill="#c9cdd2" /><rect x="479.00" y="200.60" width="67.50" height="3.60" fill="#a7abb0" /><rect x="477.00" y="192.40" width="4.20" height="12.60" fill="#24262a" /><rect x="544.20" y="192.00" width="4.20" height="12.60" fill="#24262a" /><rect x="495.20" y="204.20" width="4.20" height="21.80" fill="#3f78c8" /><rect x="495.20" y="204.20" width="1.60" height="21.80" fill="#a9b2be" /><rect x="522.40" y="204.20" width="4.20" height="21.80" fill="#3f78c8" /><rect x="522.40" y="204.20" width="1.60" height="21.80" fill="#a9b2be" /><path d="M481,197 C492,198 495,214 497.5,224" stroke="#7eaae8" stroke-width="1.0" fill="none" /><path d="M545,199 C531,201 528,216 525.5,226" stroke="#7eaae8" stroke-width="1.0" fill="none" /><polygon points="429.60,215.00 593.20,215.00 602.60,244.00 420.80,244.00" fill="#1259bb" /><rect x="436.00" y="214.00" width="8.00" height="3.50" fill="#7d8186" /><rect x="448.50" y="217.00" width="23.50" height="11.80" fill="#6e7276" /><rect x="482.00" y="216.40" width="67.00" height="10.40" fill="#6e7276" /><rect x="482.00" y="216.40" width="67.00" height="1.60" fill="#8d9196" /><polygon points="559.40,212.70 593.00,212.70 597.00,237.80 559.40,237.80" fill="#8a8b8d" /><rect x="495.20" y="214.00" width="4.20" height="12.00" fill="#3f78c8" /><rect x="522.40" y="214.00" width="4.20" height="12.00" fill="#3f78c8" /><rect x="548.60" y="212.00" width="5.80" height="9.50" fill="#3c76c6" /><rect x="548.60" y="212.00" width="2.40" height="9.50" fill="#a9b2be" /><path d="M557.73,234.35 C548.45,229.05 549.16,206.26 558.08,205.20" stroke="#8fb4e6" stroke-width="0.7" fill="none" /><path d="M590.57,234.35 C599.85,229.05 599.14,206.26 590.22,205.20" stroke="#8fb4e6" stroke-width="0.7" fill="none" /><rect x="556.30" y="197.78" width="3.57" height="35.51" fill="#3f78c8" /><rect x="588.43" y="197.78" width="3.57" height="35.51" fill="#3f78c8" /><rect x="562.01" y="198.31" width="24.28" height="7.95" fill="#d6d3c8" /><rect x="572.01" y="199.90" width="4.28" height="7.42" fill="#7c7c78" /><rect x="562.37" y="206.26" width="9.64" height="23.32" fill="#e4dfcc" rx="0.8"/><rect x="565.22" y="208.38" width="3.93" height="7.42" fill="#2a2a2a" /><rect x="576.29" y="196.72" width="9.64" height="32.86" fill="#e9e5d6" rx="0.8"/><rect x="578.79" y="205.20" width="4.64" height="5.30" fill="#3b5f9a" /><rect x="577.72" y="194.60" width="6.78" height="3.18" fill="#cfcfc8" /><rect x="563.44" y="184.00" width="7.85" height="13.78" fill="#1a1a1a" rx="0.8"/><rect x="562.01" y="194.60" width="10.71" height="4.77" fill="#222" /><circle cx="567.19" cy="202.81" r="4.11" fill="#f4f4f4" stroke="#3a3a3a" stroke-width="0.6"/><rect x="558.44" y="229.58" width="31.42" height="7.42" fill="#8b8b8b" /><rect x="453.70" y="221.22" width="6.90" height="21.58" fill="#6f795c" /><rect x="453.70" y="221.22" width="6.90" height="2.78" fill="#a5a582" /><rect x="454.00" y="226.32" width="6.60" height="3.71" fill="#3c4a3c" /><rect x="454.00" y="236.32" width="6.60" height="6.48" fill="#b3a866" /><rect x="431.80" y="214.72" width="22.20" height="23.04" fill="#27352b" /><rect x="432.02" y="213.56" width="2.22" height="16.24" fill="#1c271f" /><rect x="434.55" y="215.18" width="1.24" height="17.63" fill="#7a7038" /><rect x="436.46" y="212.40" width="2.22" height="17.40" fill="#1c271f" /><rect x="438.99" y="215.18" width="1.24" height="17.63" fill="#7a7038" /><rect x="440.90" y="213.56" width="2.22" height="16.24" fill="#1c271f" /><rect x="443.43" y="215.18" width="1.24" height="17.63" fill="#7a7038" /><rect x="445.34" y="212.40" width="2.22" height="17.40" fill="#1c271f" /><rect x="447.87" y="215.18" width="1.24" height="17.63" fill="#7a7038" /><rect x="449.78" y="213.56" width="2.22" height="16.24" fill="#1c271f" /><rect x="452.31" y="215.18" width="1.24" height="17.63" fill="#7a7038" /><rect x="431.80" y="225.86" width="22.20" height="2.78" fill="#3f6a66" opacity="0.9"/><rect x="431.80" y="237.40" width="22.20" height="5.40" fill="#e1d79e" /><rect x="431.80" y="240.64" width="22.20" height="2.16" fill="#a99c58" /><rect x="427.00" y="230.50" width="5.40" height="12.30" fill="#2f8fdc" /><rect x="428.20" y="234.44" width="3.12" height="5.12" fill="#8cc6f2" /><rect x="494.50" y="221.22" width="14.70" height="21.58" fill="#6f795c" /><rect x="494.50" y="221.22" width="14.70" height="2.78" fill="#a5a582" /><rect x="494.80" y="226.32" width="14.40" height="3.71" fill="#3c4a3c" /><rect x="494.80" y="236.32" width="14.40" height="6.48" fill="#b3a866" /><rect x="471.60" y="214.72" width="23.20" height="23.04" fill="#27352b" /><rect x="471.83" y="213.56" width="2.32" height="16.24" fill="#1c271f" /><rect x="474.48" y="215.18" width="1.30" height="17.63" fill="#7a7038" /><rect x="476.47" y="212.40" width="2.32" height="17.40" fill="#1c271f" /><rect x="479.12" y="215.18" width="1.30" height="17.63" fill="#7a7038" /><rect x="481.11" y="213.56" width="2.32" height="16.24" fill="#1c271f" /><rect x="483.76" y="215.18" width="1.30" height="17.63" fill="#7a7038" /><rect x="485.75" y="212.40" width="2.32" height="17.40" fill="#1c271f" /><rect x="488.40" y="215.18" width="1.30" height="17.63" fill="#7a7038" /><rect x="490.39" y="213.56" width="2.32" height="16.24" fill="#1c271f" /><rect x="493.04" y="215.18" width="1.30" height="17.63" fill="#7a7038" /><rect x="471.60" y="225.86" width="23.20" height="2.78" fill="#3f6a66" opacity="0.9"/><rect x="471.60" y="237.40" width="23.20" height="5.40" fill="#e1d79e" /><rect x="471.60" y="240.64" width="23.20" height="2.16" fill="#a99c58" /><rect x="467.60" y="230.50" width="4.60" height="12.30" fill="#2f8fdc" /><rect x="468.60" y="234.44" width="2.60" height="5.12" fill="#8cc6f2" /><rect x="520.35" y="227.08" width="4.65" height="16.52" fill="#34363c" /><rect x="521.28" y="224.72" width="2.79" height="7.08" fill="#d9d4c0" /><rect x="521.75" y="236.99" width="2.79" height="6.61" fill="#cfd8e0" /><rect x="525.00" y="232.98" width="46.50" height="10.62" fill="#2b2d30" /><rect x="525.20" y="220.00" width="8.10" height="17.46" fill="#e3e6ea" /><rect x="527.58" y="222.83" width="3.44" height="10.15" fill="#b7bcc4" /><circle cx="529.30" cy="241.24" r="0.70" fill="#d9c97a" /><rect x="533.80" y="220.60" width="8.10" height="16.86" fill="#e3e6ea" /><rect x="536.18" y="222.83" width="3.44" height="10.15" fill="#b7bcc4" /><circle cx="537.90" cy="241.24" r="0.70" fill="#d9c97a" /><rect x="542.41" y="220.00" width="8.10" height="17.46" fill="#e3e6ea" /><rect x="544.79" y="222.83" width="3.44" height="10.15" fill="#b7bcc4" /><circle cx="546.51" cy="241.24" r="0.70" fill="#d9c97a" /><rect x="551.01" y="220.60" width="8.10" height="16.86" fill="#e3e6ea" /><rect x="553.39" y="222.83" width="3.44" height="10.15" fill="#b7bcc4" /><circle cx="555.11" cy="241.24" r="0.70" fill="#d9c97a" /><rect x="560.80" y="222.36" width="10.70" height="20.77" fill="#17181a" /><circle cx="565.92" cy="238.41" r="0.80" fill="#d8b73a" /><rect x="583.00" y="203.00" width="10.50" height="4.02" fill="#1c1c1c" rx="0.8"/><rect x="582.70" y="207.02" width="11.10" height="6.83" fill="#f2c511" /><polygon points="582.70,213.85 593.80,213.85 590.47,231.14 586.03,231.14" fill="#141414" /><rect x="586.70" y="231.14" width="3.11" height="9.25" fill="#c9c9c9" /><ellipse cx="588.25" cy="241.59" rx="4.66" ry="2.01" fill="#181818" /><rect x="421.00" y="243.40" width="180.40" height="10.40" fill="#c9c9c5" /><rect x="421.00" y="243.40" width="180.40" height="2.29" fill="#dcdcd8" /><line x1="422.50" y1="249.22" x2="599.90" y2="249.22" stroke="#5f6265" stroke-width="3.54" stroke-dasharray="1.25 1.20"/><rect x="421.00" y="252.34" width="180.40" height="1.46" fill="#9c9c9a" /><rect x="510.70" y="242.40" width="1.00" height="11.40" fill="#1259bb" /><rect x="420.60" y="253.00" width="184.40" height="14.60" fill="#c5c6c8" /><rect x="420.60" y="253.00" width="184.40" height="2.40" fill="#a3a5a7" /><rect x="420.60" y="266.00" width="184.40" height="1.60" fill="#97999b" /><rect x="450.60" y="259.60" width="153.00" height="4.40" fill="#1f62b8" /><rect x="423.60" y="256.60" width="26.20" height="9.20" fill="#cfd6e0" /><text x="432.4" y="263.2" font-family="Liberation Sans, sans-serif" font-size="5.6" font-weight="bold" fill="#a9c3e4" text-anchor="middle">edib</text><circle cx="443.50" cy="261.40" r="4.70" fill="#d5282a" /><text x="443.6" y="263.2" font-family="Liberation Sans, sans-serif" font-size="5.6" font-weight="bold" fill="#f6e4e2" text-anchor="middle">on</text><rect x="420.20" y="255.00" width="2.00" height="12.00" fill="#c8362a" /><rect x="604.20" y="255.00" width="1.20" height="12.00" fill="#8d8086" /></g>
<g fill="none" stroke="#5384b6" stroke-width="1.1">
<rect x="206.4" y="26.4" width="145.3" height="95.9"/>
<rect x="126.4" y="126.4" width="145.3" height="95.9"/>
<rect x="45.9" y="226.4" width="145.3" height="95.9"/>
<rect x="126.4" y="326.4" width="145.3" height="95.9"/>
<rect x="206.4" y="426.4" width="145.3" height="95.9"/>
<rect x="401.6" y="112.6" width="218.9" height="324.3"/>
</g>
<line x1="279" y1="122.4" x2="397.45" y2="222.24" stroke="#5384b6" stroke-width="1"/><polygon points="401.20,225.40 396.10,223.85 398.81,220.64" fill="#2f68ab" />
<line x1="271.8" y1="174" x2="397.01" y2="249.86" stroke="#5384b6" stroke-width="1"/><polygon points="401.20,252.40 395.92,251.66 398.10,248.06" fill="#2f68ab" />
<line x1="191" y1="274.4" x2="396.30" y2="274.60" stroke="#5384b6" stroke-width="1"/><polygon points="401.20,274.60 396.30,276.70 396.30,272.50" fill="#2f68ab" />
<line x1="271.8" y1="374" x2="396.96" y2="301.26" stroke="#5384b6" stroke-width="1"/><polygon points="401.20,298.80 398.02,303.08 395.91,299.45" fill="#2f68ab" />
<line x1="279" y1="426" x2="397.38" y2="330.87" stroke="#5384b6" stroke-width="1"/><polygon points="401.20,327.80 398.70,332.51 396.07,329.23" fill="#2f68ab" />
</svg>
</body></html>
